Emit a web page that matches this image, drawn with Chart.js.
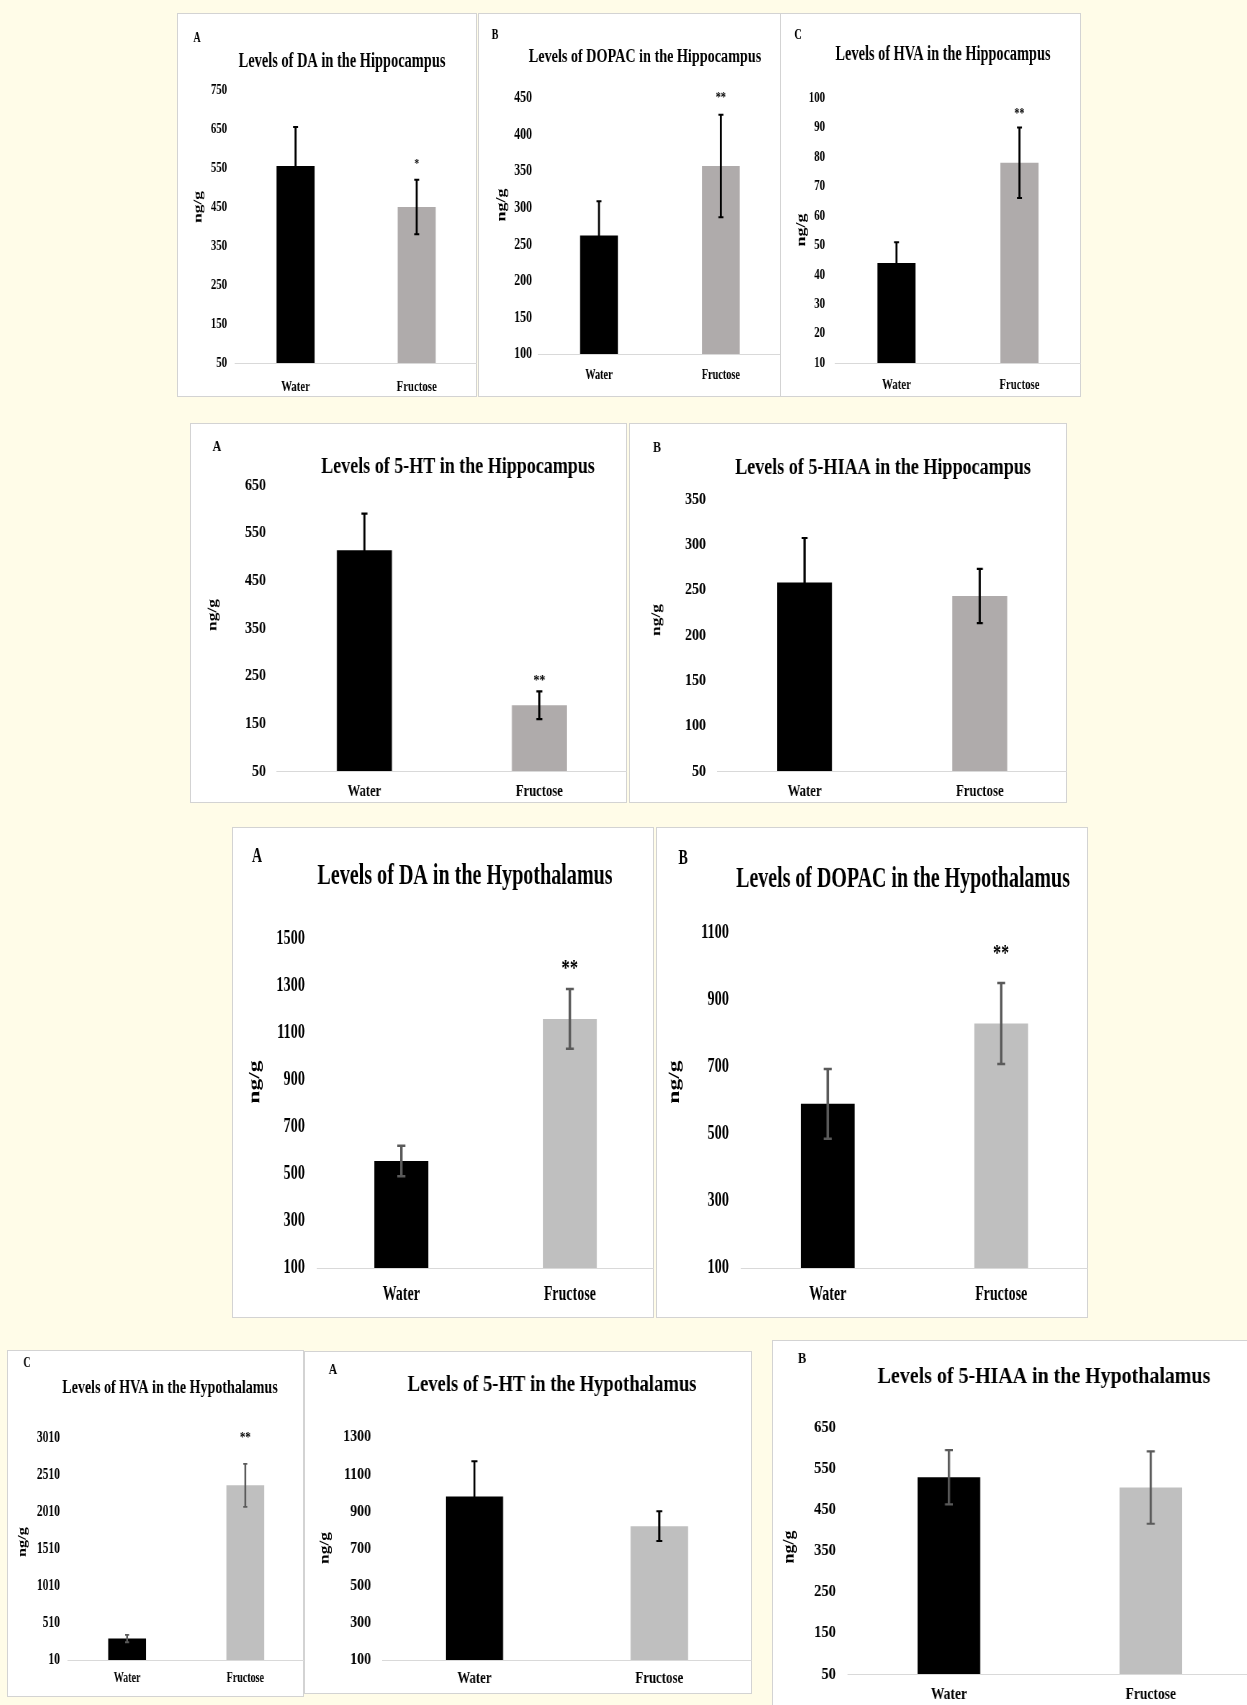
<!DOCTYPE html>
<html>
<head>
<meta charset="utf-8">
<script src="https://cdn.jsdelivr.net/npm/chart.js@4.4.1/dist/chart.umd.min.js"></script>
<style>
  html, body { margin: 0; padding: 0; }
  body { width: 1247px; height: 1705px; overflow: hidden; background: #FFFCE8; position: relative; }
  .panel { position: absolute; box-sizing: border-box; background: #fff; border: 1px solid #d3d3d3; }
  canvas.fig { position: absolute; transform-origin: 0 0; }
</style>
</head>
<body>
<script>
// Groups compared in every panel
const groups = ['Water', 'Fructose'];

// Hippocampus (mean, SEM, significance mark, y-axis ticks), ng/g
const hipDaMean = [555, 450];
const hipDaSem = [100, 70];
const hipDaSig = ['', '*'];
const hipDaTicks = [50, 150, 250, 350, 450, 550, 650, 750];

const hipDopacMean = [262, 357];
const hipDopacSem = [47, 70];
const hipDopacSig = ['', '**'];
const hipDopacTicks = [100, 150, 200, 250, 300, 350, 400, 450];

const hipHvaMean = [44, 78];
const hipHvaSem = [7, 12];
const hipHvaSig = ['', '**'];
const hipHvaTicks = [10, 20, 30, 40, 50, 60, 70, 80, 90, 100];

const hip5htMean = [513, 188];
const hip5htSem = [77, 29];
const hip5htSig = ['', '**'];
const hip5htTicks = [50, 150, 250, 350, 450, 550, 650];

const hip5hiaaMean = [258, 243];
const hip5hiaaSem = [49, 30];
const hip5hiaaSig = ['', ''];
const hip5hiaaTicks = [50, 100, 150, 200, 250, 300, 350];

// Hypothalamus
const hypDaMean = [555, 1160];
const hypDaSem = [65, 127];
const hypDaSig = ['', '**'];
const hypDaTicks = [100, 300, 500, 700, 900, 1100, 1300, 1500];

const hypDopacMean = [590, 830];
const hypDopacSem = [104, 121];
const hypDopacSig = ['', '**'];
const hypDopacTicks = [100, 300, 500, 700, 900, 1100];

const hypHvaMean = [300, 2370];
const hypHvaSem = [50, 290];
const hypHvaSig = ['', '**'];
const hypHvaTicks = [10, 510, 1010, 1510, 2010, 2510, 3010];

const hyp5htMean = [980, 820];
const hyp5htSem = [190, 80];
const hyp5htSig = ['', ''];
const hyp5htTicks = [100, 300, 500, 700, 900, 1100, 1300];

const hyp5hiaaMean = [528, 503];
const hyp5hiaaSem = [66, 88];
const hyp5hiaaSig = ['', ''];
const hyp5hiaaTicks = [50, 150, 250, 350, 450, 550, 650];

const SERIF = '"Liberation Serif", "Times New Roman", serif';
const GRAY_DARK = '#AFABAB';
const GRAY_LIGHT = '#BFBFBF';

// Panel layout: box = frame [l,t,r,b]; plot = [left, y of top tick, right, baseline]
const panels = [
  { title: 'Levels of DA in the Hippocampus', letter: 'A', mean: hipDaMean, sem: hipDaSem, sig: hipDaSig, ticks: hipDaTicks,
    box: [177, 13, 477, 397], plot: [235, 90, 477, 363], tickRight: 227, sx: 0.72,
    titlePos: [342, 62], titleSize: 20, letterPos: [197, 38], letterSize: 14, ylabPos: [198, 207], ylabSize: 17.5,
    catY: 387, catSize: 15, tickSize: 15, barFrac: 0.314, fru: GRAY_DARK,
    errColor: '#000', errW: 2, cap: 5, starGap: 18, starSize: 13 },
  { title: 'Levels of DOPAC in the Hippocampus', letter: 'B', mean: hipDopacMean, sem: hipDopacSem, sig: hipDopacSig, ticks: hipDopacTicks,
    box: [478, 13, 782, 397], plot: [538, 98, 782, 354], tickRight: 532, sx: 0.72,
    titlePos: [645, 57], titleSize: 19.7, letterPos: [495, 35], letterSize: 14, ylabPos: [502, 205], ylabSize: 18,
    catY: 375, catSize: 14.3, tickSize: 16.5, barFrac: 0.31, fru: GRAY_DARK,
    errColor: '#000', errW: 2, cap: 5, starGap: 19, starSize: 14 },
  { title: 'Levels of HVA in the Hippocampus', letter: 'C', mean: hipHvaMean, sem: hipHvaSem, sig: hipHvaSig, ticks: hipHvaTicks,
    box: [780, 13, 1081, 397], plot: [835, 98, 1081, 363], tickRight: 825, sx: 0.72,
    titlePos: [943, 55], titleSize: 19.9, letterPos: [798, 35], letterSize: 14, ylabPos: [802, 230], ylabSize: 18,
    catY: 385, catSize: 15, tickSize: 15, barFrac: 0.31, fru: GRAY_DARK,
    errColor: '#000', errW: 2, cap: 5, starGap: 15, starSize: 14 },
  { title: 'Levels of 5-HT in the Hippocampus', letter: 'A', mean: hip5htMean, sem: hip5htSem, sig: hip5htSig, ticks: hip5htTicks,
    box: [190, 423, 627, 803], plot: [277, 485, 627, 771], tickRight: 266, sx: 0.8,
    titlePos: [458, 467], titleSize: 22.5, letterPos: [217, 447], letterSize: 15, ylabPos: [213, 615], ylabSize: 17.4,
    catY: 792, catSize: 15.8, tickSize: 17.5, barFrac: 0.314, fru: GRAY_DARK,
    errColor: '#000', errW: 2.2, cap: 6, starGap: 13, starSize: 15 },
  { title: 'Levels of 5-HIAA in the Hippocampus', letter: 'B', mean: hip5hiaaMean, sem: hip5hiaaSem, sig: hip5hiaaSig, ticks: hip5hiaaTicks,
    box: [629, 423, 1067, 803], plot: [717, 499, 1067, 771], tickRight: 706, sx: 0.8,
    titlePos: [883, 468], titleSize: 22.6, letterPos: [657, 448], letterSize: 15, ylabPos: [657, 620], ylabSize: 17.4,
    catY: 792, catSize: 16, tickSize: 17.5, barFrac: 0.314, fru: GRAY_DARK,
    errColor: '#000', errW: 2.2, cap: 6, starGap: 13, starSize: 15 },
  { title: 'Levels of DA in the Hypothalamus', letter: 'A', mean: hypDaMean, sem: hypDaSem, sig: hypDaSig, ticks: hypDaTicks,
    box: [232, 827, 654, 1318], plot: [317, 939, 654, 1268], tickRight: 305, sx: 0.7,
    titlePos: [465, 877], titleSize: 28.7, letterPos: [257, 857], letterSize: 20, ylabPos: [255, 1082], ylabSize: 23.6,
    catY: 1295, catSize: 20, tickSize: 20.5, barFrac: 0.32, fru: GRAY_LIGHT,
    errColor: '#5a5a5a', errW: 2.5, cap: 8, starGap: 24, starSize: 24 },
  { title: 'Levels of DOPAC in the Hypothalamus', letter: 'B', mean: hypDopacMean, sem: hypDopacSem, sig: hypDopacSig, ticks: hypDopacTicks,
    box: [656, 827, 1088, 1318], plot: [741, 933, 1088, 1268], tickRight: 729, sx: 0.7,
    titlePos: [903, 880], titleSize: 28.5, letterPos: [683, 859], letterSize: 20, ylabPos: [675, 1082], ylabSize: 23.6,
    catY: 1295, catSize: 20, tickSize: 20.5, barFrac: 0.31, fru: GRAY_LIGHT,
    errColor: '#5a5a5a', errW: 2.5, cap: 8, starGap: 32, starSize: 23 },
  { title: 'Levels of HVA in the Hypothalamus', letter: 'C', mean: hypHvaMean, sem: hypHvaSem, sig: hypHvaSig, ticks: hypHvaTicks,
    box: [7, 1350, 304, 1697], plot: [68, 1438, 304, 1660], tickRight: 60, sx: 0.72,
    titlePos: [170, 1388], titleSize: 19.5, letterPos: [27, 1363], letterSize: 14, ylabPos: [23, 1542], ylabSize: 16.4,
    catY: 1678, catSize: 14, tickSize: 16, barFrac: 0.32, fru: GRAY_LIGHT,
    errColor: '#5a5a5a', errW: 1.8, cap: 4, starGap: 28, starSize: 15 },
  { title: 'Levels of 5-HT in the Hypothalamus', letter: 'A', mean: hyp5htMean, sem: hyp5htSem, sig: hyp5htSig, ticks: hyp5htTicks,
    box: [304, 1351, 752, 1694], plot: [382, 1437, 752, 1660], tickRight: 371, sx: 0.82,
    titlePos: [552, 1385], titleSize: 22.7, letterPos: [333, 1370], letterSize: 14, ylabPos: [325, 1548], ylabSize: 17.4,
    catY: 1679, catSize: 15.7, tickSize: 17, barFrac: 0.31, fru: GRAY_LIGHT,
    errColor: '#000', errW: 2, cap: 6, starGap: 15, starSize: 15 },
  { title: 'Levels of 5-HIAA in the Hypothalamus', letter: 'B', mean: hyp5hiaaMean, sem: hyp5hiaaSem, sig: hyp5hiaaSig, ticks: hyp5hiaaTicks,
    box: [772, 1340, 1262, 1720], plot: [848, 1427, 1252, 1674], tickRight: 836, sx: 0.83,
    titlePos: [1044, 1377], titleSize: 24, letterPos: [802, 1359], letterSize: 15, ylabPos: [790, 1547], ylabSize: 18,
    catY: 1695, catSize: 16.3, tickSize: 17.5, barFrac: 0.31, fru: GRAY_LIGHT,
    errColor: '#5a5a5a', errW: 2.2, cap: 8, starGap: 15, starSize: 15 }
];

function bold(size) { return `bold ${size}px ${SERIF}`; }

function makePanel(p) {
  const [bl, bt, br, bb] = p.box;
  const [pl, pt, pr, pb] = p.plot;

  const frame = document.createElement('div');
  frame.className = 'panel';
  frame.style.left = bl + 'px';
  frame.style.top = bt + 'px';
  frame.style.width = (br - bl) + 'px';
  frame.style.height = (bb - bt) + 'px';
  document.body.appendChild(frame);

  // Canvas is drawn wide, then narrowed horizontally to give the condensed lettering
  const W = Math.round((br - bl) / p.sx);
  const H = bb - bt;
  const canvas = document.createElement('canvas');
  canvas.className = 'fig';
  canvas.width = W;
  canvas.height = H;
  canvas.style.left = bl + 'px';
  canvas.style.top = bt + 'px';
  canvas.style.transform = `scaleX(${p.sx})`;
  document.body.appendChild(canvas);

  const X = v => (v - bl) / p.sx;
  const Y = v => v - bt;

  const annotate = {
    id: 'annotate',
    afterDatasetsDraw(chart) {
      const ctx = chart.ctx;
      const yScale = chart.scales.y;
      const bars = chart.getDatasetMeta(0).data;
      ctx.save();
      // error bars (mean ± SEM)
      ctx.strokeStyle = p.errColor;
      ctx.lineCap = 'butt';
      bars.forEach((bar, i) => {
        const hi = yScale.getPixelForValue(p.mean[i] + p.sem[i]);
        const lo = yScale.getPixelForValue(p.mean[i] - p.sem[i]);
        const cx = bar.x;
        const half = p.cap / 2 / p.sx;
        ctx.lineWidth = p.errW / p.sx;
        ctx.beginPath();
        ctx.moveTo(cx, hi);
        ctx.lineTo(cx, lo);
        ctx.stroke();
        ctx.lineWidth = p.errW;
        ctx.beginPath();
        ctx.moveTo(cx - half, hi); ctx.lineTo(cx + half, hi);
        ctx.moveTo(cx - half, lo); ctx.lineTo(cx + half, lo);
        ctx.stroke();
        if (p.sig[i]) {
          ctx.fillStyle = '#000';
          ctx.font = bold(p.starSize);
          ctx.textAlign = 'center';
          ctx.textBaseline = 'middle';
          ctx.fillText(p.sig[i], cx, hi - p.starGap + p.starSize * 0.15);
        }
      });
      // title, panel letter and axis label
      ctx.fillStyle = '#000';
      ctx.textAlign = 'center';
      ctx.textBaseline = 'middle';
      ctx.font = bold(p.titleSize);
      ctx.fillText(p.title, X(p.titlePos[0]), Y(p.titlePos[1]));
      ctx.font = bold(p.letterSize);
      ctx.fillText(p.letter, X(p.letterPos[0]), Y(p.letterPos[1]));
      ctx.translate(X(p.ylabPos[0]), Y(p.ylabPos[1]));
      ctx.rotate(-Math.PI / 2);
      ctx.font = bold(p.ylabSize);
      ctx.fillText('ng/g', 0, 0);
      ctx.restore();
    }
  };

  new Chart(canvas, {
    type: 'bar',
    data: {
      labels: groups,
      datasets: [{
        data: p.mean,
        backgroundColor: ['#000000', p.fru],
        borderWidth: 0,
        barPercentage: p.barFrac,
        categoryPercentage: 1
      }]
    },
    options: {
      responsive: false,
      animation: false,
      devicePixelRatio: 1,
      events: [],
      layout: { padding: { left: 0, top: pt - bt, right: (br - pr) / p.sx, bottom: 0 } },
      plugins: { legend: { display: false }, tooltip: { enabled: false }, title: { display: false } },
      scales: {
        x: {
          grid: { display: false, drawTicks: false },
          border: { display: true, color: '#d9d9d9', width: 1 },
          ticks: {
            color: '#000',
            font: { family: SERIF, weight: 'bold', size: p.catSize },
            padding: p.catY - pb - 0.6 * p.catSize,
            maxRotation: 0, autoSkip: false
          },
          afterFit: s => { s.height = bb - pb; }
        },
        y: {
          min: p.ticks[0],
          max: p.ticks[p.ticks.length - 1],
          grid: { display: false, drawTicks: false },
          border: { display: false },
          ticks: {
            color: '#000',
            font: { family: SERIF, weight: 'bold', size: p.tickSize },
            padding: (pl - p.tickRight) / p.sx,
            callback: v => String(v)
          },
          afterBuildTicks: s => { s.ticks = p.ticks.map(v => ({ value: v })); },
          afterFit: s => { s.width = (pl - bl) / p.sx; }
        }
      }
    },
    plugins: [annotate]
  });
}

panels.forEach(makePanel);
</script>
</body>
</html>
